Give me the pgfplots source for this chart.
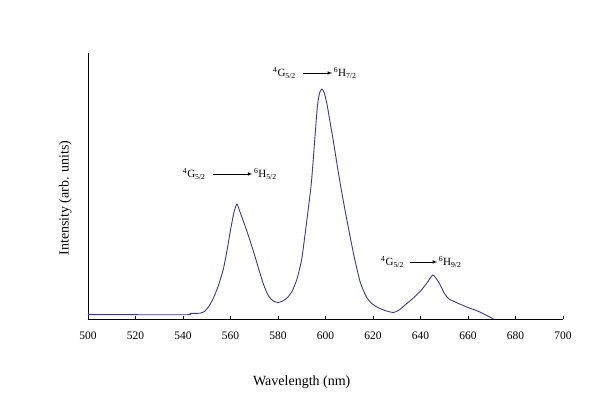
\documentclass[border=0pt]{standalone}
\usepackage{fontspec}
\setmainfont{Liberation Serif}
\usepackage{pgfplots}
\pgfplotsset{compat=1.18}
\definecolor{curve}{RGB}{58,58,138}
\begin{document}
\begin{tikzpicture}[x=1pt,y=1pt]
\begin{axis}[
  at={(0,0)}, anchor=south west,
  scale only axis, width=475pt, height=266pt,
  xmin=500, xmax=700, ymin=0, ymax=266,
  axis x line=bottom, axis y line=left,
  axis line style={-, black, line width=0.8pt},
  xtick={500,520,...,700}, ytick=\empty,
  xtick align=inside, major tick length=3pt,
  tick style={black, line width=0.7pt},
  /pgf/number format/assume math mode=true,
  /pgf/number format/1000 sep={},
  tick label style={font=\fontsize{11.5}{13}\selectfont},
  xticklabel style={yshift=-9pt},
  xlabel={Wavelength (nm)},
  ylabel={Intensity (arb. units)},
  label style={font=\fontsize{14}{16}\selectfont},
  xlabel style={at={(axis description cs:0.45,-0.237)}, anchor=center},
  ylabel style={at={(axis description cs:-0.048,0.455)}, anchor=center},
  clip=false,
]
\addplot[curve, line width=0.9pt, smooth, tension=0.35] coordinates {
(500,4.3) (520,4.3) (542,4.3) (543,5.5) (547,5.8) (549,7.5) (551,13) (553,22)
(555,34) (557,50) (558.5,68) (560,89) (561.5,107) (562.7,115) (564,107)
(566,94) (568,80) (570,65) (572,49) (574,34) (576,23) (578,18) (580,16.5)
(582,18) (584,21.5) (586,28) (588,40) (590,60) (592,96) (594,135) (595.5,180)
(596.6,213) (597.5,226) (598.5,230) (599.5,226) (600.6,215) (602,196)
(603.5,175) (606,138) (609,99) (612,63) (614.6,37) (617,23) (619,16.5)
(621.6,12) (625,8.5) (628.6,6.5) (631,9) (634,15) (637,21) (640,28)
(642.7,36) (645.2,44) (647.6,37) (650,26) (652,20) (656,15.5) (660,11.5)
(665,7) (670.7,0)
};
\draw[-latex, black, line width=0.6pt] (axis cs:552.7,145) -- (axis cs:569.2,145);
\node[anchor=east, font=\fontsize{11}{12}\selectfont, inner sep=1pt] at (axis cs:550,145) {\textsuperscript{4}G\textsubscript{5/2}};
\node[anchor=west, font=\fontsize{11}{12}\selectfont, inner sep=1pt] at (axis cs:569.4,145) {\textsuperscript{6}H\textsubscript{5/2}};
\draw[-latex, black, line width=0.6pt] (axis cs:590.6,246) -- (axis cs:602.8,246);
\node[anchor=east, font=\fontsize{11}{12}\selectfont, inner sep=1pt] at (axis cs:588,246) {\textsuperscript{4}G\textsubscript{5/2}};
\node[anchor=west, font=\fontsize{11}{12}\selectfont, inner sep=1pt] at (axis cs:603,246) {\textsuperscript{6}H\textsubscript{7/2}};
\draw[-latex, black, line width=0.6pt] (axis cs:635.7,57) -- (axis cs:647,57);
\node[anchor=east, font=\fontsize{11}{12}\selectfont, inner sep=1pt] at (axis cs:633.5,57) {\textsuperscript{4}G\textsubscript{5/2}};
\node[anchor=west, font=\fontsize{11}{12}\selectfont, inner sep=1pt] at (axis cs:647.2,57) {\textsuperscript{6}H\textsubscript{9/2}};
\end{axis}
\pgfresetboundingbox
\useasboundingbox (-88pt,-79pt) rectangle (514pt,319pt);
\end{tikzpicture}
\end{document}
